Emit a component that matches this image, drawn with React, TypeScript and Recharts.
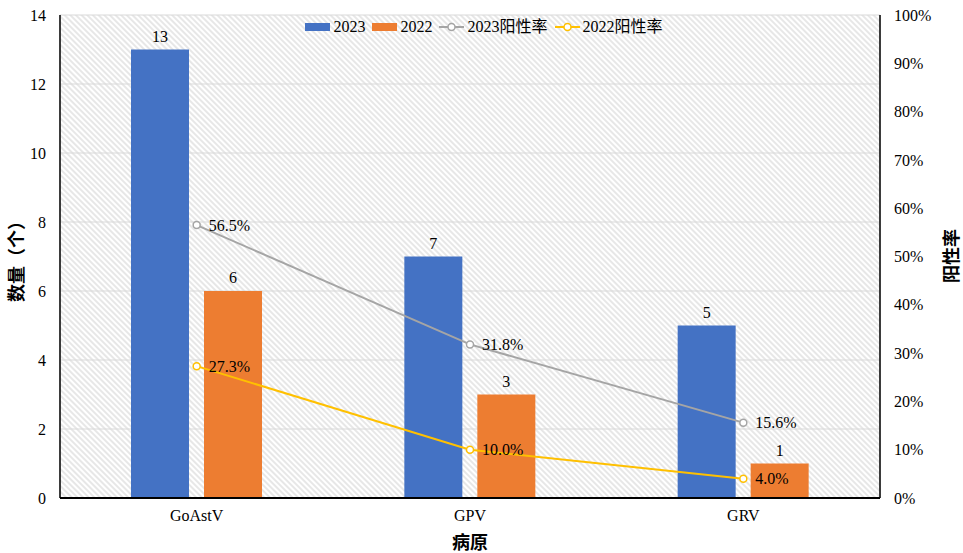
import React from 'react';
import { ComposedChart, Bar, Line, XAxis, YAxis, CartesianGrid, Legend, LabelList } from 'recharts';

const categories = ['GoAstV', 'GPV', 'GRV'];
const count2023 = [13, 7, 5];
const count2022 = [6, 3, 1];
const rate2023 = [56.5, 31.8, 15.6];
const rate2022 = [27.3, 10.0, 4.0];
const countTicks = [0, 2, 4, 6, 8, 10, 12, 14];
const rateTicks = [0, 10, 20, 30, 40, 50, 60, 70, 80, 90, 100];
const boundaryTicks = [1, 2];

const BLUE = '#4472C4';
const ORANGE = '#ED7D31';
const GRAY = '#A5A5A5';
const YELLOW = '#FFC000';
const SERIF = "'Liberation Serif', 'Times New Roman', 'Noto Sans CJK SC', serif";
const CJK = "'Noto Sans CJK SC', sans-serif";

const data = categories.map((name, i) => ({
  name,
  c2023: count2023[i],
  c2022: count2022[i],
  r2023: rate2023[i],
  r2022: rate2022[i],
}));

const legendItems = [
  { label: '2023', color: BLUE, kind: 'bar' },
  { label: '2022', color: ORANGE, kind: 'bar' },
  { label: '2023阳性率', color: GRAY, kind: 'line' },
  { label: '2022阳性率', color: YELLOW, kind: 'line' },
];

const renderLegend = () => (
  <div
    style={{
      display: 'flex',
      justifyContent: 'center',
      alignItems: 'center',
      fontFamily: SERIF,
      fontSize: 16,
      color: '#000',
      lineHeight: '20px',
    }}
  >
    {legendItems.map((it) => (
      <div key={it.label} style={{ display: 'flex', alignItems: 'center', marginRight: 7 }}>
        <svg width={25} height={12} style={{ display: 'block' }}>
          {it.kind === 'bar' ? (
            <rect x={0} y={2} width={25} height={8} fill={it.color} />
          ) : (
            <g>
              <line x1={0} y1={6} x2={25} y2={6} stroke={it.color} strokeWidth={2} />
              <circle cx={12.5} cy={6} r={3.5} fill="#fff" stroke={it.color} strokeWidth={1.5} />
            </g>
          )}
        </svg>
        <span style={{ marginLeft: 3, fontFamily: SERIF }}>{it.label}</span>
      </div>
    ))}
  </div>
);

const pctFormat = (v: any) => `${Number(v).toFixed(1)}%`;

export default function App() {
  return (
    <div style={{ position: 'absolute', left: 0, top: 0, width: 963, height: 553, background: '#fff' }}>
      <svg width={0} height={0} style={{ position: 'absolute' }}>
        <defs>
          <pattern id="hatch" patternUnits="userSpaceOnUse" width={4} height={4} patternTransform="rotate(45)">
            <rect x={0} y={0} width={4} height={4} fill="#ffffff" />
            <line x1={0} y1={1} x2={4} y2={1} stroke="#d0d0d0" strokeWidth={1} />
          </pattern>
        </defs>
      </svg>
      <ComposedChart
        width={963}
        height={553}
        data={data}
        margin={{ top: 15, right: 13, bottom: 15, left: 10 }}
        barGap={15}
      >
        <CartesianGrid
          xAxisId="grid"
          yAxisId="left"
          stroke="#d9d9d9"
          fill="url(#hatch)"
          fillOpacity={1}
        />
        <XAxis
          dataKey="name"
          height={40}
          tickLine={false}
          tickSize={0}
          tickMargin={12}
          axisLine={{ stroke: '#000', strokeWidth: 2 }}
          tick={{ fontFamily: SERIF, fontSize: 16, fill: '#000' }}
          interval={0}
          label={{
            content: () => (
              <text x={470} y={541} textAnchor="middle" dominantBaseline="central" fontFamily={CJK} fontWeight={700} fontSize={18} fill="#000">
                病原
              </text>
            ),
          }}
        />
        <XAxis
          xAxisId="grid"
          type="number"
          domain={[0, 3]}
          ticks={boundaryTicks}
          allowDataOverflow
          mirror
          height={0}
          tick={false}
          axisLine={false}
          tickSize={5}
          tickLine={{ stroke: '#000', strokeWidth: 1.5 }}
        />
        <YAxis
          yAxisId="left"
          width={50}
          domain={[0, 14]}
          ticks={countTicks}
          tickLine={false}
          tickSize={0}
          tickMargin={14}
          axisLine={{ stroke: '#000', strokeWidth: 1.5 }}
          tick={{ fontFamily: SERIF, fontSize: 16, fill: '#000' }}
          label={{
            content: () => (
              <text x={15} y={257} transform="rotate(-90 15 257)" textAnchor="middle" dominantBaseline="central" fontFamily={CJK} fontWeight={700} fontSize={18} fill="#000">
                数量（个）
              </text>
            ),
          }}
        />
        <YAxis
          yAxisId="leftTicks"
          mirror
          domain={[0, 14]}
          ticks={countTicks}
          tick={false}
          axisLine={false}
          tickSize={4}
          tickLine={{ stroke: '#000', strokeWidth: 1.5 }}
        />
        <YAxis
          yAxisId="right"
          orientation="right"
          width={70}
          domain={[0, 100]}
          ticks={rateTicks}
          tickFormatter={(v: any) => `${v}%`}
          tickLine={false}
          tickSize={0}
          tickMargin={14}
          axisLine={{ stroke: '#000', strokeWidth: 1.5 }}
          tick={{ fontFamily: SERIF, fontSize: 16, fill: '#000' }}
          label={{
            content: () => (
              <text x={950} y={256} transform="rotate(-90 950 256)" textAnchor="middle" dominantBaseline="central" fontFamily={CJK} fontWeight={700} fontSize={18} fill="#000">
                阳性率
              </text>
            ),
          }}
        />
        <YAxis
          yAxisId="rightTicks"
          orientation="right"
          mirror
          domain={[0, 100]}
          ticks={rateTicks}
          tick={false}
          axisLine={false}
          tickSize={4}
          tickLine={{ stroke: '#000', strokeWidth: 1.5 }}
        />
        <Legend
          verticalAlign="middle"
          align="center"
          layout="horizontal"
          content={renderLegend}
          wrapperStyle={{ top: 17, left: 6, width: 963, height: 20 }}
        />
        <Bar yAxisId="left" dataKey="c2023" name="2023" fill={BLUE} barSize={58} isAnimationActive={false}>
          <LabelList dataKey="c2023" position="top" offset={8} fill="#000" fontFamily={SERIF} fontSize={16} />
        </Bar>
        <Bar yAxisId="left" dataKey="c2022" name="2022" fill={ORANGE} barSize={58} isAnimationActive={false}>
          <LabelList dataKey="c2022" position="top" offset={8} fill="#000" fontFamily={SERIF} fontSize={16} />
        </Bar>
        <Line
          yAxisId="right"
          dataKey="r2023"
          name="2023阳性率"
          stroke={GRAY}
          strokeWidth={2}
          dot={{ r: 3.5, fill: '#fff', stroke: GRAY, strokeWidth: 1.5 }}
          isAnimationActive={false}
        >
          <LabelList dataKey="r2023" position="right" offset={12} formatter={pctFormat} fill="#000" fontFamily={SERIF} fontSize={16} />
        </Line>
        <Line
          yAxisId="right"
          dataKey="r2022"
          name="2022阳性率"
          stroke={YELLOW}
          strokeWidth={2}
          dot={{ r: 3.5, fill: '#fff', stroke: YELLOW, strokeWidth: 1.5 }}
          isAnimationActive={false}
        >
          <LabelList dataKey="r2022" position="right" offset={12} formatter={pctFormat} fill="#000" fontFamily={SERIF} fontSize={16} />
        </Line>
      </ComposedChart>
    </div>
  );
}
